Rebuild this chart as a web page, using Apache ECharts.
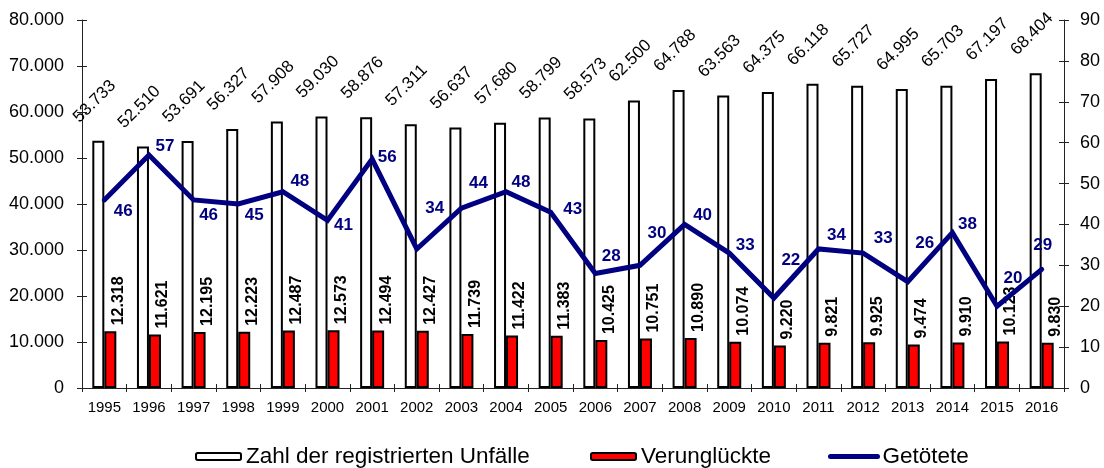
<!DOCTYPE html>
<html>
<head>
<meta charset="utf-8">
<script src="https://cdn.jsdelivr.net/npm/echarts@6/dist/echarts.min.js"></script>
<style>
html,body{margin:0;padding:0;background:#fff;}
#chart{width:1104px;height:468px;}
</style>
</head>
<body>
<div id="chart"></div>
<script>
// ---- data ----
const years = ['1995','1996','1997','1998','1999','2000','2001','2002','2003','2004','2005','2006','2007','2008','2009','2010','2011','2012','2013','2014','2015','2016'];
const unfaelle = [53733,52510,53691,56327,57908,59030,58876,57311,56637,57680,58799,58573,62500,64788,63563,64375,66118,65727,64995,65703,67197,68404];
const verunglueckte = [12318,11621,12195,12223,12487,12573,12494,12427,11739,11422,11383,10425,10751,10890,10074,9220,9821,9925,9474,9910,10123,9830];
const getoetete = [46,57,46,45,48,41,56,34,44,48,43,28,30,40,33,22,34,33,26,38,20,29];
const leftTicks = {min:0, max:80000, interval:10000};
const rightTicks = {min:0, max:90, interval:10};

// ---- styling (label placement for the line, in px) ----
const lineLabelOffsets = [[19,11],[16,-9],[15,15],[16,11],[17,-10],[16,5],[15,-2],[18,-41],[17,-25],[15,-9],[22,-3],[16,-17],[17,-32],[18,-9],[16,-8],[17,-38],[18,-14],[20,-15],[17,-38],[15,-8],[16,-28],[1,-24]];

const FONT = '"Liberation Sans", Arial, sans-serif';
const fmt = v => String(v).replace(/\B(?=(\d{3})+(?!\d))/g, '.');

const lineData = getoetete.map((v, i) => ({
  value: v,
  label: {offset: lineLabelOffsets[i]}
}));

const chart = echarts.init(document.getElementById('chart'));
const axisColor = '#222';
const legendText = {fontSize: 22.5, color: '#000', fontFamily: FONT};
chart.setOption({
  animation: false,
  backgroundColor: '#fff',
  textStyle: {fontFamily: FONT},
  grid: {left: 82, right: 40, top: 20, bottom: 80, containLabel: false},
  legend: [
    {data: ['Zahl der registrierten Unfälle'], left: 195, top: 445, padding: 0, itemWidth: 45, itemHeight: 7,
     textStyle: legendText},
    {data: ['Verunglückte'], left: 590, top: 445, padding: 0, itemWidth: 45, itemHeight: 7,
     textStyle: legendText},
    {data: ['Getötete'], left: 828, top: 445, padding: 0, itemWidth: 47, itemHeight: 7,
     itemStyle: {opacity: 0},
     lineStyle: {width: 5, cap: 'round', color: '#000080'},
     textStyle: legendText}
  ],
  xAxis: [
    {type: 'category', data: years, position: 'bottom',
     axisLine: {lineStyle: {color: axisColor, width: 1}},
     axisTick: {show: true, alignWithLabel: false, length: 4, lineStyle: {color: axisColor}},
     axisLabel: {color: '#000', fontSize: 15, margin: 12, fontFamily: FONT, interval: 0},
     splitLine: {show: false}},
    {type: 'category', data: years, position: 'bottom',
     axisLine: {show: false},
     axisTick: {show: true, inside: true, alignWithLabel: false, length: 4, lineStyle: {color: axisColor}},
     axisLabel: {show: false}, splitLine: {show: false}}
  ],
  yAxis: [
    {type: 'value', position: 'left', min: leftTicks.min, max: leftTicks.max, interval: leftTicks.interval,
     axisLine: {show: true, lineStyle: {color: axisColor, width: 1}},
     axisTick: {show: true, length: 5, lineStyle: {color: axisColor}},
     axisLabel: {color: '#000', fontSize: 18, margin: 18, fontFamily: FONT, formatter: v => fmt(v)},
     splitLine: {show: false}},
    {type: 'value', position: 'right', min: rightTicks.min, max: rightTicks.max, interval: rightTicks.interval,
     axisLine: {show: true, lineStyle: {color: axisColor, width: 1}},
     axisTick: {show: true, length: 5, lineStyle: {color: axisColor}},
     axisLabel: {color: '#000', fontSize: 18, margin: 16, fontFamily: FONT},
     splitLine: {show: false}},
    {type: 'value', position: 'left', min: leftTicks.min, max: leftTicks.max, interval: leftTicks.interval,
     axisLine: {show: false}, axisLabel: {show: false}, splitLine: {show: false},
     axisTick: {show: true, inside: true, length: 5, lineStyle: {color: axisColor}}},
    {type: 'value', position: 'right', min: rightTicks.min, max: rightTicks.max, interval: rightTicks.interval,
     axisLine: {show: false}, axisLabel: {show: false}, splitLine: {show: false},
     axisTick: {show: true, inside: true, length: 5, lineStyle: {color: axisColor}}}
  ],
  series: [
    {name: 'Zahl der registrierten Unfälle', type: 'bar', data: unfaelle, xAxisIndex: 0, yAxisIndex: 0,
     barWidth: 12, barGap: '0%',
     itemStyle: {color: '#ffffff', borderColor: '#000', borderWidth: 2},
     label: {show: true, position: [-10, -15], rotate: 45, align: 'left', verticalAlign: 'bottom',
             fontSize: 17, color: '#000', fontFamily: FONT, formatter: p => fmt(p.value)},
     z: 2},
    {name: 'Verunglückte', type: 'bar', data: verunglueckte, xAxisIndex: 0, yAxisIndex: 0,
     barWidth: 12, barGap: '0%',
     itemStyle: {color: '#ff0000', borderColor: '#000', borderWidth: 2},
     label: {show: true, position: [6, -6], rotate: 90, align: 'left', verticalAlign: 'top',
             fontSize: 16, fontWeight: 'bold', color: '#000', fontFamily: FONT, formatter: p => fmt(p.value)},
     z: 2},
    {name: 'Getötete', type: 'line', data: lineData, xAxisIndex: 0, yAxisIndex: 1,
     symbol: 'circle', symbolSize: 1, showSymbol: true,
     itemStyle: {color: '#000080'},
     lineStyle: {color: '#000080', width: 5, join: 'miter', cap: 'round'},
     label: {show: true, position: 'inside', fontSize: 17, fontWeight: 'bold', color: '#000080', fontFamily: FONT},
     z: 5}
  ]
});
</script>
</body>
</html>
